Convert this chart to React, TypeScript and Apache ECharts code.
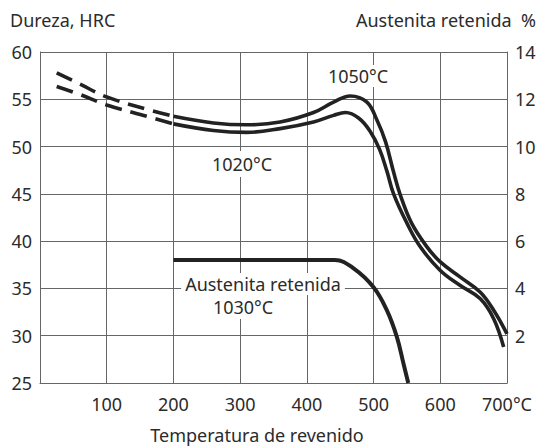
import React, { useEffect, useRef } from "react";
import * as echarts from "echarts";

// Temperature (°C) vs hardness (HRC)
const hard1050Dashed: [number, number][] = [
  [25, 57.8], [60, 56.6], [100, 55.25], [160, 53.95], [200, 53.2],
];
const hard1050Solid: [number, number][] = [
  [200, 53.2], [260, 52.5], [310, 52.3], [360, 52.6], [410, 53.6],
  [440, 54.7], [465, 55.35], [490, 54.7], [505, 52.8], [518, 50.5], [530, 47.3],
  [540, 44.9], [557, 41.9], [580, 39.4], [600, 37.8], [630, 36.2], [660, 34.6],
  [680, 32.7], [700, 30.2],
];
const hard1020Dashed: [number, number][] = [
  [25, 56.35], [60, 55.5], [100, 54.4], [160, 53.2], [200, 52.4],
];
const hard1020Solid: [number, number][] = [
  [200, 52.4], [260, 51.7], [310, 51.5], [360, 51.9], [410, 52.6],
  [440, 53.3], [458, 53.6], [478, 53.0], [495, 51.6], [509, 49.7], [520, 47.4],
  [530, 45.0], [550, 41.9], [570, 39.4], [600, 36.9], [630, 35.3], [660, 33.9],
  [680, 31.8], [695, 28.8],
];
// Retained austenite (%) at 1030°C
const austenite1030: [number, number][] = [
  [200, 5.2], [442, 5.2], [470, 4.85], [500, 4.05], [520, 3.07], [535, 1.94],
  [545, 0.8], [552, 0],
];

const xTicks = { min: 0, max: 700, interval: 100 };
const hrcTicks = { min: 25, max: 60, interval: 5 };
const austTicks = { min: 0, max: 14, interval: 2 };

const FONT = "'Noto Sans', sans-serif";
const TXT = "#2b2b2b";
const LINE = "#222";
const GRID = "#666";

export default function App() {
  const ref = useRef<HTMLDivElement>(null);
  useEffect(() => {
    if (!ref.current) return;
    const chart = echarts.init(ref.current, null, { renderer: "svg" });
    const curve = (data: [number, number][], dashed: boolean, yIdx = 0, w = 3.6) => ({
      type: "line",
      data,
      yAxisIndex: yIdx,
      smooth: 0.4,
      symbol: "none",
      silent: true,
      lineStyle: {
        color: LINE,
        width: w,
        type: dashed ? [17, 9] : "solid",
        cap: "butt",
      },
    });
    chart.setOption({
      animation: false,
      backgroundColor: "#fff",
      grid: { left: 40, right: 32, top: 52, bottom: 65, containLabel: false },
      xAxis: {
        type: "value",
        ...xTicks,
        axisLine: { show: true, onZero: false, lineStyle: { color: GRID, width: 1 } },
        axisTick: { show: false },
        splitLine: { show: true, lineStyle: { color: GRID, width: 1 } },
        axisLabel: {
          margin: 12,
          fontFamily: FONT,
          fontSize: 18,
          color: TXT,
          formatter: (v: number) => (v === 0 ? "" : v === 700 ? "700°C" : String(v)),
        },
      },
      yAxis: [
        {
          type: "value",
          ...hrcTicks,
          axisLine: { show: true, lineStyle: { color: GRID, width: 1 } },
          axisTick: { show: false },
          splitLine: { show: true, lineStyle: { color: GRID, width: 1 } },
          axisLabel: { margin: 8, fontFamily: FONT, fontSize: 18, color: TXT },
        },
        {
          type: "value",
          position: "right",
          ...austTicks,
          axisLine: { show: true, lineStyle: { color: GRID, width: 1 } },
          axisTick: { show: false },
          splitLine: { show: false },
          axisLabel: {
            margin: 8,
            fontFamily: FONT,
            fontSize: 18,
            color: TXT,
            formatter: (v: number) => (v === 0 ? "" : String(v)),
          },
        },
      ],
      series: [
        curve(hard1050Dashed, true),
        curve(hard1050Solid, false),
        curve(hard1020Dashed, true),
        curve(hard1020Solid, false),
        curve(austenite1030, false, 1, 4),
      ],
      graphic: [
        {
          type: "text",
          x: 10,
          y: 20,
          style: { text: "Dureza, HRC", font: `18px ${FONT}`, fill: TXT, textAlign: "left", textVerticalAlign: "middle" },
        },
        {
          type: "text",
          x: 536,
          y: 20,
          style: { text: "Austenita retenida  %", font: `18px ${FONT}`, fill: TXT, textAlign: "right", textVerticalAlign: "middle" },
        },
        {
          type: "text",
          x: 257,
          y: 435,
          style: { text: "Temperatura de revenido", font: `18px ${FONT}`, fill: TXT, textAlign: "center", textVerticalAlign: "middle" },
        },
        {
          type: "text",
          x: 358,
          y: 76,
          z: 100,
          style: {
            text: "1050°C", font: `18px ${FONT}`, fill: TXT, textAlign: "center", textVerticalAlign: "middle",
            backgroundColor: "#fff", padding: [2, 3, 2, 3],
          },
        },
        {
          type: "text",
          x: 242,
          y: 164,
          z: 100,
          style: {
            text: "1020°C", font: `18px ${FONT}`, fill: TXT, textAlign: "center", textVerticalAlign: "middle",
            backgroundColor: "#fff", padding: [4, 3, 4, 3],
          },
        },
        {
          type: "text",
          x: 263,
          y: 284,
          z: 100,
          style: {
            text: "Austenita retenida", font: `18px ${FONT}`, fill: TXT, textAlign: "center", textVerticalAlign: "middle",
            backgroundColor: "#fff", padding: [2, 4, 2, 4],
          },
        },
        {
          type: "text",
          x: 243,
          y: 307,
          z: 100,
          style: {
            text: "1030°C", font: `18px ${FONT}`, fill: TXT, textAlign: "center", textVerticalAlign: "middle",
            backgroundColor: "#fff", padding: [2, 3, 4, 3],
          },
        },
      ],
    });
    return () => chart.dispose();
  }, []);
  return (
    <div
      ref={ref}
      style={{ position: "fixed", left: 0, top: 0, width: 539, height: 448, background: "#fff" }}
    />
  );
}
